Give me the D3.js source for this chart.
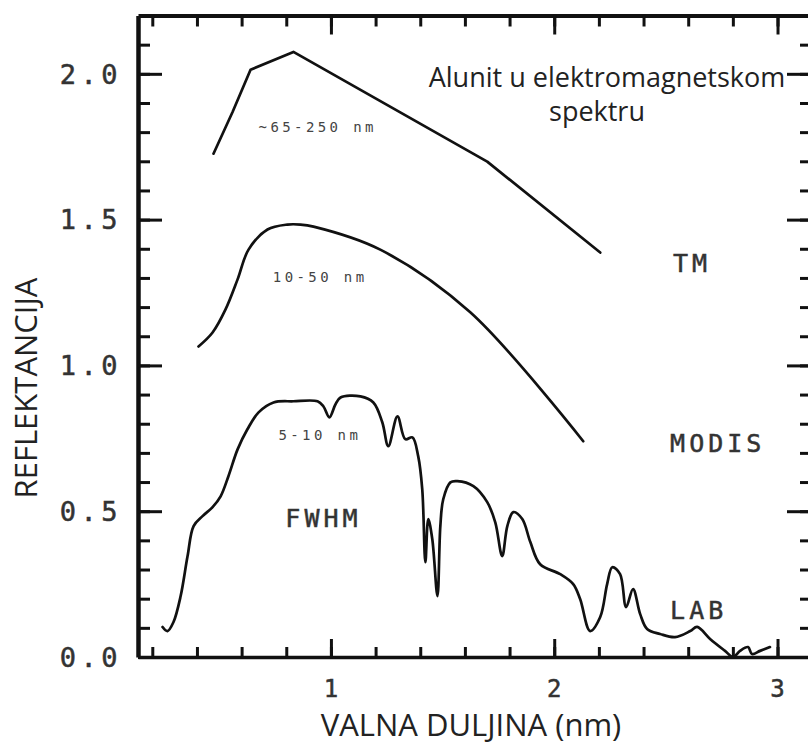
<!DOCTYPE html>
<html>
<head>
<meta charset="utf-8">
<script src="https://cdn.jsdelivr.net/npm/d3@7"></script>
<style>
  html, body { margin: 0; padding: 0; background: #fff; }
  svg { display: block; }
</style>
</head>
<body>
<svg id="chart" width="808" height="746"></svg>
<script>
// ---------- DATA ----------
const tmWavelength   = [0.474, 0.56, 0.640, 0.832, 1.700, 2.206];
const tmReflectance  = [1.726, 1.87, 2.014, 2.075, 1.699, 1.387];

const modisWavelength  = [0.407, 0.470, 0.528, 0.582, 0.631, 0.716, 0.805, 0.864, 0.922, 1.221, 1.624, 2.130];
const modisReflectance = [1.065, 1.113, 1.192, 1.295, 1.397, 1.466, 1.483, 1.483, 1.476, 1.397, 1.182, 0.740];

const labWavelength = [0.246, 0.268, 0.295, 0.327, 0.358, 0.385, 0.425, 0.470, 0.506, 0.541, 0.582, 0.626, 0.676,
  0.743, 0.832, 0.940, 0.966, 0.993, 1.020, 1.043, 1.132, 1.190, 1.230, 1.257, 1.298, 1.333, 1.365, 1.391, 1.409,
  1.423, 1.436, 1.454, 1.477, 1.490, 1.503, 1.535, 1.566, 1.638, 1.700, 1.736, 1.767, 1.790, 1.817, 1.857, 1.893,
  1.937, 2.027, 2.085, 2.116, 2.161, 2.206, 2.237, 2.260, 2.295, 2.322, 2.353, 2.385, 2.416, 2.474, 2.541, 2.609,
  2.640, 2.698, 2.765, 2.801, 2.832, 2.868, 2.886, 2.922, 2.966];
const labReflectance = [0.103, 0.089, 0.120, 0.209, 0.346, 0.449, 0.483, 0.514, 0.551, 0.620, 0.712, 0.781, 0.839,
  0.873, 0.877, 0.877, 0.860, 0.822, 0.866, 0.890, 0.894, 0.873, 0.805, 0.723, 0.825, 0.747, 0.753, 0.688, 0.575,
  0.325, 0.473, 0.404, 0.209, 0.449, 0.541, 0.599, 0.603, 0.586, 0.531, 0.462, 0.346, 0.449, 0.497, 0.473, 0.394,
  0.318, 0.284, 0.250, 0.199, 0.089, 0.137, 0.250, 0.308, 0.284, 0.171, 0.233, 0.147, 0.096, 0.079, 0.068, 0.089,
  0.103, 0.062, 0.021, 0.000, 0.021, 0.034, 0.010, 0.021, 0.034];

const xTickValues = [1, 2, 3];
const xTickLabels = ["1", "2", "3"];
const yTickValues = [0.0, 0.5, 1.0, 1.5, 2.0];
const yTickLabels = ["0.0", "0.5", "1.0", "1.5", "2.0"];

const seriesLabels = [
  { text: "TM",    x: 2.532, y: 1.322 },
  { text: "MODIS", x: 2.519, y: 0.702 },
  { text: "FWHM",  x: 0.796, y: 0.445 },
  { text: "LAB",   x: 2.519, y: 0.130 }
];
const widthLabels = [
  { text: "~65-250 nm", x: 0.676, y: 1.800 },
  { text: "10-50 nm",   x: 0.740, y: 1.285 },
  { text: "5-10 nm",    x: 0.765, y: 0.745 }
];
const titleLines = ["Alunit u elektromagnetskom", "spektru"];
const xTitle = "VALNA DULJINA (nm)";
const yTitle = "REFLEKTANCIJA";

// ---------- SCALES ----------
const svg = d3.select("#chart");
const mLeft = 138, mRight = 809, mTop = 15.5, mBottom = 657;
const x = d3.scaleLinear().domain([0.136, 3.141]).range([mLeft, mRight]);
const y = d3.scaleLinear().domain([0, 2.2]).range([mBottom, mTop]);

const g = svg.append("g");

// ---------- AXES (ticks on all four sides, pointing inward) ----------
const minorX = d3.range(0.2, 3.01, 0.2).map(v => +v.toFixed(2));
const minorY = d3.range(0.1, 2.11, 0.1).map(v => +v.toFixed(2));

function addAxis(axisFn, scale, values, size, translate, domainW) {
  const a = axisFn(scale).tickValues(values).tickSizeInner(size).tickSizeOuter(0).tickFormat("");
  const sel = g.append("g").attr("transform", translate).call(a);
  if (domainW) sel.select(".domain").attr("stroke", "#111").attr("stroke-width", domainW);
  else sel.select(".domain").remove();
  sel.selectAll(".tick line").attr("stroke", "#111").attr("stroke-width", 3);
  return sel;
}
// bottom
addAxis(d3.axisBottom, x, minorX, -10, `translate(0,${mBottom})`, 3.5);
addAxis(d3.axisBottom, x, xTickValues, -18, `translate(0,${mBottom})`, 0);
// top
addAxis(d3.axisTop, x, minorX, -11, `translate(0,${mTop})`, 4);
addAxis(d3.axisTop, x, xTickValues, -19, `translate(0,${mTop})`, 0);
// left
addAxis(d3.axisLeft, y, minorY, -12, `translate(${mLeft},0)`, 4.5);
addAxis(d3.axisLeft, y, yTickValues, -24, `translate(${mLeft},0)`, 0);
// right
addAxis(d3.axisRight, y, minorY, -9, `translate(${mRight},0)`, 3);
addAxis(d3.axisRight, y, yTickValues, -22, `translate(${mRight},0)`, 0);

// ---------- TICK LABELS ----------
const monoFont = "'DejaVu Sans Mono', monospace";
g.selectAll(".ylab").data(yTickValues).enter().append("text")
  .attr("x", 122).attr("y", d => y(d))
  .attr("dy", "0.36em")
  .attr("text-anchor", "end")
  .style("font-family", monoFont).style("font-size", "27px")
  .style("letter-spacing", "4.5px")
  .attr("fill", "#333").attr("stroke", "#333").attr("stroke-width", 0.5)
  .text((d, i) => yTickLabels[i]);

g.selectAll(".xlab").data(xTickValues).enter().append("text")
  .attr("x", d => x(d)).attr("y", 697)
  .attr("text-anchor", "middle")
  .style("font-family", monoFont).style("font-size", "24px")
  .attr("fill", "#333").attr("stroke", "#333").attr("stroke-width", 0.5)
  .text((d, i) => xTickLabels[i]);

// ---------- CURVES ----------
const line = d3.line().x(d => x(d[0])).y(d => y(d[1]));
const lineSmooth = d3.line().x(d => x(d[0])).y(d => y(d[1])).curve(d3.curveCatmullRom.alpha(0.5));

function drawSeries(xs, ys, gen) {
  g.append("path")
    .datum(xs.map((v, i) => [v, ys[i]]))
    .attr("d", gen)
    .attr("fill", "none")
    .attr("stroke", "#111")
    .attr("stroke-width", 2.7)
    .attr("stroke-linejoin", "round")
    .attr("stroke-linecap", "round");
}
drawSeries(tmWavelength, tmReflectance, line);
drawSeries(modisWavelength, modisReflectance, lineSmooth);
drawSeries(labWavelength, labReflectance, lineSmooth);

// ---------- LABELS ----------
g.selectAll(".slab").data(seriesLabels).enter().append("text")
  .attr("x", d => x(d.x)).attr("y", d => y(d.y))
  .style("font-family", monoFont).style("font-size", "25px")
  .style("letter-spacing", "4px")
  .attr("fill", "#333").attr("stroke", "#333").attr("stroke-width", 0.5)
  .text(d => d.text);

g.selectAll(".wlab").data(widthLabels).enter().append("text")
  .attr("x", d => x(d.x)).attr("y", d => y(d.y))
  .style("font-family", monoFont).style("font-size", "14px")
  .style("letter-spacing", "3.4px")
  .attr("fill", "#444")
  .text(d => d.text);

// title
const sansFont = "'Open Sans', sans-serif";
g.append("text").attr("x", 607).attr("y", 87).attr("text-anchor", "middle")
  .style("font-family", sansFont).style("font-size", "27px").attr("fill", "#222")
  .text(titleLines[0]);
g.append("text").attr("x", 597).attr("y", 121).attr("text-anchor", "middle")
  .style("font-family", sansFont).style("font-size", "27px").attr("fill", "#222")
  .text(titleLines[1]);

// axis titles
g.append("text").attr("x", 471).attr("y", 736).attr("text-anchor", "middle")
  .style("font-family", sansFont).style("font-size", "31px").attr("fill", "#222")
  .text(xTitle);
g.append("text").attr("transform", "translate(37,388) rotate(-90)").attr("text-anchor", "middle")
  .style("font-family", sansFont).style("font-size", "31px").attr("fill", "#222")
  .text(yTitle);
</script>
</body>
</html>
